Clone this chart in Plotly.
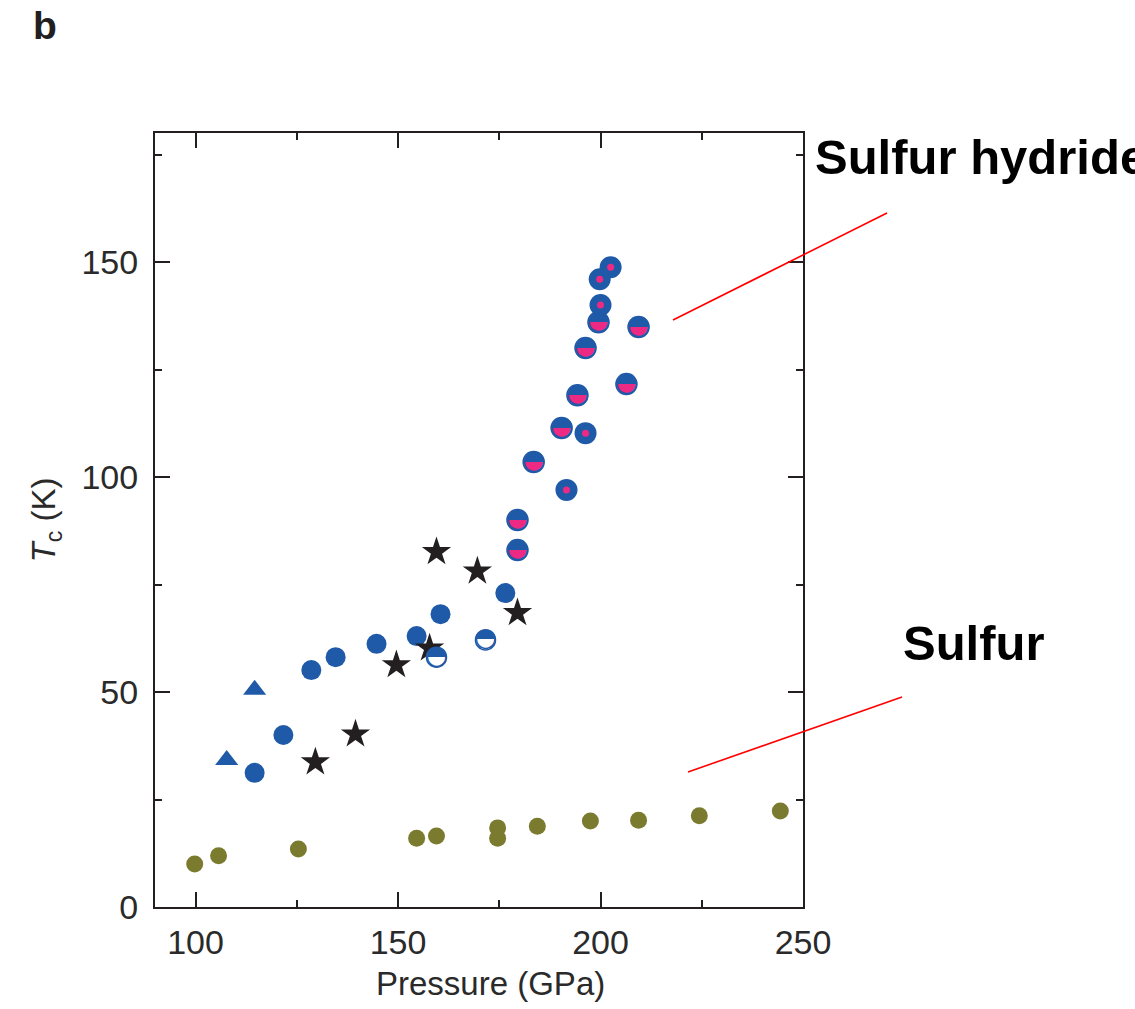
import plotly.graph_objects as go

# ---- data (pressure in GPa, Tc in K) ----
blue_circle_p = [114.6, 121.7, 128.6, 134.6, 144.7, 154.6, 160.5, 176.5]
blue_circle_t = [31.2, 40.0, 55.1, 58.1, 61.2, 63.0, 68.1, 73.0]

triangle_p = [107.7, 114.6]
triangle_t = [34.2, 50.5]

star_p = [129.6, 139.5, 149.6, 157.8, 159.5, 169.6, 179.5]
star_t = [33.7, 40.2, 56.3, 60.2, 82.6, 78.1, 68.4]

half_white_p = [159.5, 171.6]
half_white_t = [58.1, 62.1]

half_pink_p = [179.5, 179.5, 183.5, 190.4, 194.3, 196.3, 199.5, 206.4, 209.4]
half_pink_t = [83.0, 90.0, 103.5, 111.4, 119.0, 130.0, 136.0, 121.6, 134.9]

dot_p = [191.6, 196.3, 200.0, 199.8, 202.5]
dot_t = [97.0, 110.2, 140.0, 146.0, 148.8]

sulfur_p = [99.8, 105.7, 125.4, 154.6, 159.5, 174.6, 174.6, 184.4, 197.5, 209.4, 224.4, 244.4]
sulfur_t = [10.0, 11.9, 13.5, 16.0, 16.5, 16.0, 18.4, 18.8, 20.0, 20.2, 21.2, 22.3]

x_ticks = [100, 150, 200, 250]
x_minor = [125, 175, 225]
y_ticks = [0, 50, 100, 150]
y_minor = [25, 75, 125, 175]

BLUE = "#1f5aa8"
PINK = "#ec2a84"
OLIVE = "#7b7b30"
INK = "#231f20"
LABEL = "#2a2a2a"
HALF_GLYPH = "\u25D3"
SANS = "Liberation Sans, Arial, sans-serif"

fig = go.Figure()

fig.add_trace(go.Scatter(x=blue_circle_p, y=blue_circle_t, mode="markers",
                         marker=dict(symbol="circle", size=20, color=BLUE, line=dict(width=0))))
fig.add_trace(go.Scatter(x=triangle_p, y=triangle_t, mode="markers",
                         marker=dict(symbol="triangle-up", size=20, color=BLUE, line=dict(width=0))))
fig.add_trace(go.Scatter(x=star_p, y=star_t, mode="markers",
                         marker=dict(symbol="star", size=22, color=INK, line=dict(width=0))))
# half-filled (blue top / white bottom)
fig.add_trace(go.Scatter(x=half_white_p, y=half_white_t, mode="markers",
                         marker=dict(symbol="circle", size=20, color="white", line=dict(width=1.5, color=BLUE))))
fig.add_trace(go.Scatter(x=half_white_p, y=half_white_t, mode="text",
                         text=[HALF_GLYPH] * len(half_white_p), textposition="middle center",
                         textfont=dict(family="DejaVu Sans", size=26, color=BLUE)))
# half-filled (blue top / pink bottom)
fig.add_trace(go.Scatter(x=half_pink_p, y=half_pink_t, mode="markers",
                         marker=dict(symbol="circle", size=21, color=PINK, line=dict(width=1.5, color=BLUE))))
fig.add_trace(go.Scatter(x=half_pink_p, y=half_pink_t, mode="text",
                         text=[HALF_GLYPH] * len(half_pink_p), textposition="middle center",
                         textfont=dict(family="DejaVu Sans", size=27, color=BLUE)))
# blue circle with pink dot
fig.add_trace(go.Scatter(x=dot_p, y=dot_t, mode="markers",
                         marker=dict(symbol="circle", size=22, color=BLUE, line=dict(width=0))))
fig.add_trace(go.Scatter(x=dot_p, y=dot_t, mode="markers",
                         marker=dict(symbol="circle", size=7, color=PINK, line=dict(width=0))))
# sulfur
fig.add_trace(go.Scatter(x=sulfur_p, y=sulfur_t, mode="markers",
                         marker=dict(symbol="circle", size=17, color=OLIVE, line=dict(width=0))))

axis_common = dict(
    showline=True, linewidth=2, linecolor=INK, mirror="ticks",
    ticks="inside", ticklen=15, tickwidth=2, tickcolor=INK,
    showgrid=False, zeroline=False,
    tickfont=dict(family=SANS, size=34, color=LABEL),
)

fig.update_xaxes(range=[90, 250], tickvals=x_ticks, ticktext=[str(v) for v in x_ticks],
                 minor=dict(tickvals=x_minor, ticks="inside", ticklen=7, tickwidth=2, tickcolor=INK),
                 ticklabelstandoff=4,
                 **axis_common)
fig.update_yaxes(range=[0, 180], tickvals=y_ticks, ticktext=[str(v) for v in y_ticks],
                 minor=dict(tickvals=y_minor, ticks="inside", ticklen=7, tickwidth=2, tickcolor=INK),
                 title=dict(text="<i>T</i><sub>c</sub> (K)", standoff=16,
                            font=dict(family=SANS, size=33, color=LABEL)),
                 ticklabelstandoff=8,
                 **axis_common)

PW, PH, L, T = 648, 774, 155, 133
def px(x):
    return (x - L) / PW
def py(y):
    return (T + PH - y) / PH

fig.add_shape(type="line", xref="paper", yref="paper",
              x0=px(673), y0=py(320), x1=px(887), y1=py(213),
              line=dict(color="#ff0000", width=1.6))
fig.add_shape(type="line", xref="paper", yref="paper",
              x0=px(688), y0=py(772), x1=px(902), y1=py(697),
              line=dict(color="#ff0000", width=1.6))

fig.add_annotation(text="Pressure (GPa)", xref="paper", yref="paper",
                   x=px(490), y=py(983), xanchor="center", yanchor="middle", showarrow=False,
                   font=dict(family=SANS, size=33, color=LABEL))
fig.add_annotation(text="<b>Sulfur hydride</b>", xref="paper", yref="paper",
                   x=px(813), y=py(157), xanchor="left", yanchor="middle", showarrow=False,
                   font=dict(family=SANS, size=49, color="black"))
fig.add_annotation(text="<b>Sulfur</b>", xref="paper", yref="paper",
                   x=px(901), y=py(643), xanchor="left", yanchor="middle", showarrow=False,
                   font=dict(family=SANS, size=49, color="black"))
fig.add_annotation(text="<b>b</b>", xref="paper", yref="paper",
                   x=px(31), y=py(26), xanchor="left", yanchor="middle", showarrow=False,
                   font=dict(family=SANS, size=39, color=INK))

fig.update_layout(
    width=1135, height=1009,
    margin=dict(l=155, r=332, t=133, b=102, autoexpand=False),
    paper_bgcolor="white", plot_bgcolor="white",
    showlegend=False,
)

fig.write_html("out.html")
